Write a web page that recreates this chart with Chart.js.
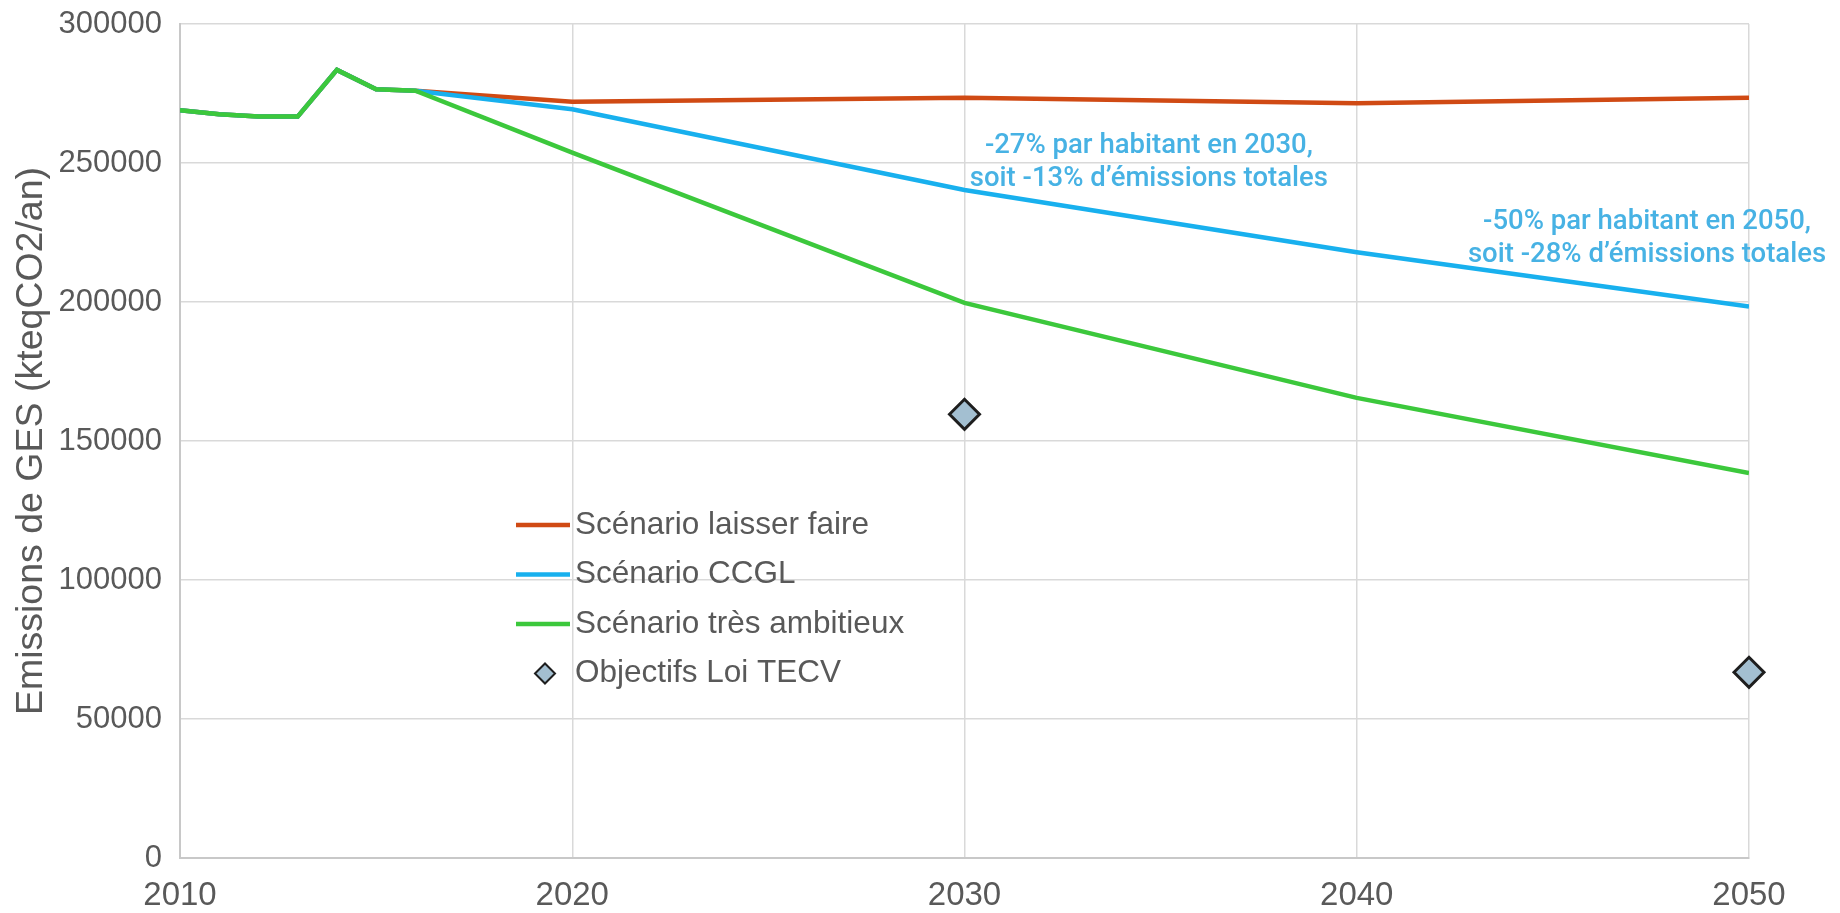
<!DOCTYPE html>
<html lang="fr">
<head>
    <meta charset="UTF-8">
    <title>Emissions de GES</title>
    <style>
        html, body { margin: 0; padding: 0; background: #fff; }
        canvas { display: block; }
    </style>
</head>
<body>
<canvas id="myChart" width="1840" height="913"></canvas>

<script src="https://cdn.jsdelivr.net/npm/chart.js"></script>
<script>
    // Données
    var annees = [2010, 2011, 2012, 2013, 2014, 2015, 2016, 2020, 2030, 2040, 2050];
    var laisserFaire = [269000, 267500, 266700, 266700, 283500, 276500, 276000, 272000, 273500, 271500, 273500];
    var ccgl = [269000, 267500, 266700, 266700, 283500, 276500, 276000, 269300, 240300, 217900, 198400];
    var tresAmbitieux = [269000, 267500, 266700, 266700, 283500, 276500, 276000, 253700, 199700, 165500, 138500];
    var anneesObjectifs = [2030, 2050];
    var objectifsTecv = [159600, 66800];

    var legendeNoms = ['Scénario laisser faire', 'Scénario CCGL', 'Scénario très ambitieux', 'Objectifs Loi TECV'];
    var notes = [
        { x: 2034.7, y: 250200, lignes: ['-27% par habitant en 2030,', 'soit -13% d\u2019émissions totales'] },
        { x: 2047.4, y: 223000, lignes: ['-50% par habitant en 2050,', 'soit -28% d\u2019émissions totales'] }
    ];

    var rouge = '#D04A14';
    var bleu = '#18B0EE';
    var vert = '#3CC83C';
    var gris = '#595959';

    function points(xs, ys) {
        return xs.map(function (x, i) { return { x: x, y: ys[i] }; });
    }

    // légende et textes bleus dessinés à la main
    var extras = {
        id: 'extras',
        afterDraw: function (chart) {
            var ctx = chart.ctx;
            ctx.save();

            // légende
            var lx = 516, ly = 525, pas = 49.5;
            var couleurs = [rouge, bleu, vert];
            ctx.font = '31.5px "Liberation Sans", Arial, sans-serif';
            ctx.textBaseline = 'middle';
            ctx.textAlign = 'left';
            for (var i = 0; i < legendeNoms.length; i++) {
                var y = ly + i * pas;
                if (i < 3) {
                    ctx.strokeStyle = couleurs[i];
                    ctx.lineWidth = 4.5;
                    ctx.beginPath();
                    ctx.moveTo(lx, y);
                    ctx.lineTo(lx + 54, y);
                    ctx.stroke();
                } else {
                    var cx = lx + 29, r = 10;
                    ctx.beginPath();
                    ctx.moveTo(cx - r, y);
                    ctx.lineTo(cx, y - r);
                    ctx.lineTo(cx + r, y);
                    ctx.lineTo(cx, y + r);
                    ctx.closePath();
                    ctx.fillStyle = '#A3BFD1';
                    ctx.fill();
                    ctx.strokeStyle = '#1E1E1E';
                    ctx.lineWidth = 2;
                    ctx.stroke();
                }
                ctx.fillStyle = gris;
                ctx.fillText(legendeNoms[i], lx + 59, y);
            }

            // annotations
            var sx = chart.scales.x, sy = chart.scales.y;
            ctx.font = '500 27.5px Roboto, "Liberation Sans", sans-serif';
            ctx.fillStyle = '#47B2E4';
            ctx.textAlign = 'center';
            notes.forEach(function (n) {
                var px = sx.getPixelForValue(n.x);
                var py = sy.getPixelForValue(n.y);
                ctx.fillText(n.lignes[0], px, py - 16);
                ctx.fillText(n.lignes[1], px, py + 17);
            });

            ctx.restore();
        }
    };

    var ctx = document.getElementById('myChart').getContext('2d');
    var myChart = new Chart(ctx, {
        type: 'line',
        data: {
            datasets: [
                {
                    label: legendeNoms[0],
                    data: points(annees, laisserFaire),
                    borderColor: rouge,
                    borderWidth: 4.5,
                    pointRadius: 0,
                    tension: 0,
                    order: 3
                },
                {
                    label: legendeNoms[1],
                    data: points(annees, ccgl),
                    borderColor: bleu,
                    borderWidth: 4.5,
                    pointRadius: 0,
                    tension: 0,
                    order: 2
                },
                {
                    label: legendeNoms[2],
                    data: points(annees, tresAmbitieux),
                    borderColor: vert,
                    borderWidth: 4.5,
                    pointRadius: 0,
                    tension: 0,
                    order: 1
                },
                {
                    type: 'scatter',
                    label: legendeNoms[3],
                    data: points(anneesObjectifs, objectifsTecv),
                    pointStyle: 'rectRot',
                    pointRadius: 15,
                    pointBackgroundColor: '#A3BFD1',
                    pointBorderColor: '#1E1E1E',
                    pointBorderWidth: 3,
                    showLine: false,
                    clip: false,
                    order: 0
                }
            ]
        },
        options: {
            responsive: false,
            animation: false,
            layout: { padding: { top: 24, right: 91, left: 0, bottom: 0 } },
            plugins: {
                legend: { display: false },
                tooltip: { enabled: false }
            },
            scales: {
                x: {
                    type: 'linear',
                    min: 2010,
                    max: 2050,
                    ticks: {
                        stepSize: 10,
                        color: gris,
                        padding: 18,
                        font: { family: '"Liberation Sans", Arial, sans-serif', size: 33 },
                        callback: function (v) { return String(v); }
                    },
                    grid: { color: '#D9D9D9', lineWidth: 1.5, drawTicks: false },
                    border: { color: '#C8C8C8', width: 2 },
                    afterFit: function (axis) {
                        axis.height = 55;
                        axis.paddingLeft = 0;
                        axis.paddingRight = 0;
                    }
                },
                y: {
                    min: 0,
                    max: 300000,
                    ticks: {
                        stepSize: 50000,
                        color: gris,
                        padding: 18,
                        font: { family: '"Liberation Sans", Arial, sans-serif', size: 31 },
                        callback: function (v) { return String(v); }
                    },
                    grid: { color: '#D9D9D9', lineWidth: 1.5, drawTicks: false },
                    border: { color: '#C8C8C8', width: 2 },
                    title: {
                        display: true,
                        text: 'Emissions de GES (kteqCO2/an)',
                        color: gris,
                        padding: { top: 9, bottom: 0 },
                        font: { family: '"Liberation Sans", Arial, sans-serif', size: 37.5 }
                    },
                    afterFit: function (axis) {
                        axis.width = 180;
                        axis.paddingTop = 0;
                        axis.paddingBottom = 0;
                    }
                }
            }
        },
        plugins: [extras]
    });
</script>
</body>
</html>
